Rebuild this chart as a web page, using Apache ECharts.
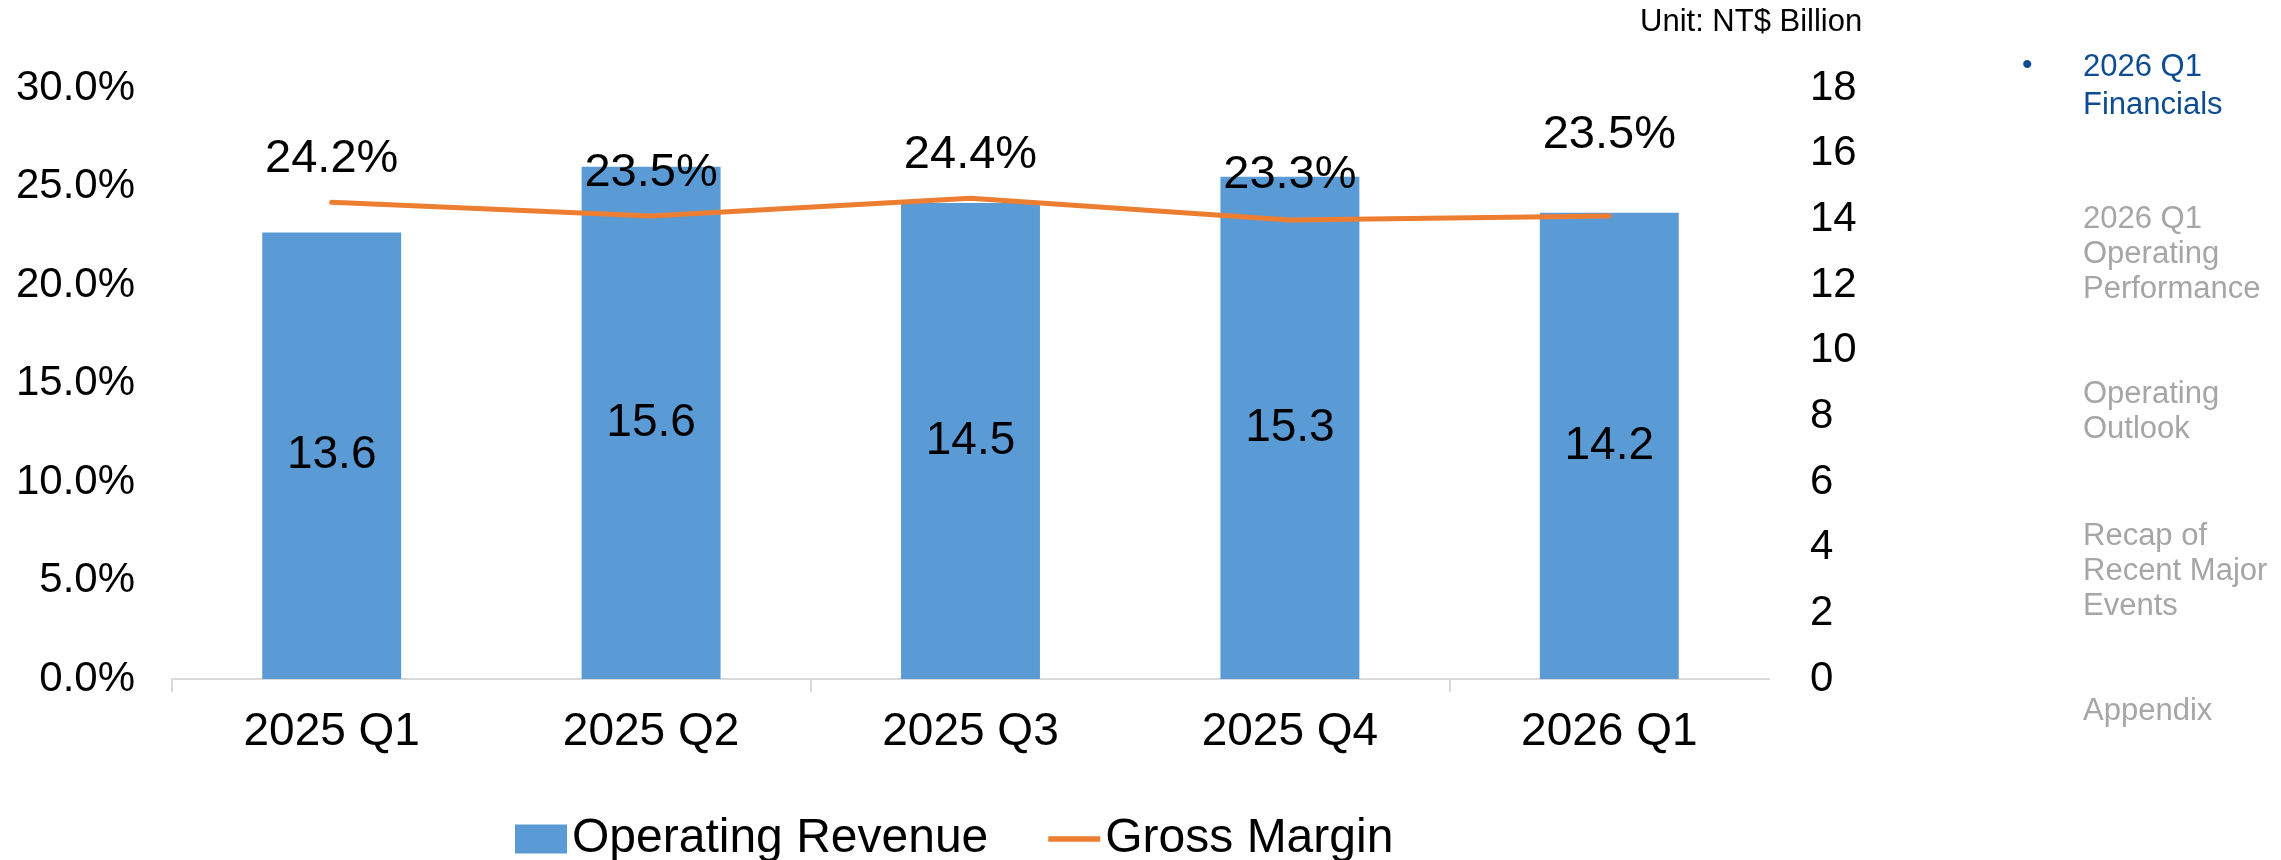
<!DOCTYPE html>
<html>
<head>
<meta charset="utf-8">
<script src="https://cdn.jsdelivr.net/npm/echarts@6/dist/echarts.min.js"></script>
<style>
  html, body { margin: 0; padding: 0; background: #fff; }
  #chart { width: 2281px; height: 860px; }
</style>
</head>
<body>
<div id="chart"></div>
<script>
var quarters = ['2025 Q1', '2025 Q2', '2025 Q3', '2025 Q4', '2026 Q1'];
var revenue = [13.6, 15.6, 14.5, 15.3, 14.2];       // NT$ Billion
var grossMargin = [24.2, 23.5, 24.4, 23.3, 23.5];   // %
var marginLabelLift = [19, 19, 19, 21, 57];          // label distance above the line point
var tickBoundaries = [0, 2, 4];                      // category boundaries that carry a tick

var font = 'Liberation Sans, Arial, sans-serif';
var blue = '#5B9BD5';
var orange = '#ED7D31';
var axisGrey = '#D9D9D9';

var navItems = [
    { text: '2026 Q1\nFinancials', top: 48, color: '#0E4C92', lh: 38 },
    { text: '2026 Q1\nOperating\nPerformance', top: 202, color: '#A6A6A6', lh: 35 },
    { text: 'Operating\nOutlook', top: 377, color: '#A6A6A6', lh: 35 },
    { text: 'Recap of\nRecent Major\nEvents', top: 519, color: '#A6A6A6', lh: 35 },
    { text: 'Appendix', top: 694, color: '#A6A6A6', lh: 35 }
];

var graphics = [
    {
        type: 'text', left: 1640, top: 7,
        style: { text: 'Unit: NT$ Billion', font: '31px ' + font, fill: '#000' }
    },
    {
        type: 'text', left: 2022, top: 51,
        style: { text: '•', font: '30px ' + font, fill: '#0E4C92' }
    }
];
navItems.forEach(function (it) {
    graphics.push({
        type: 'text', left: 2083, top: it.top,
        style: { text: it.text, font: '31px ' + font, fill: it.color, lineHeight: it.lh }
    });
});

var option = {
    textStyle: { fontFamily: font },
    legend: {
        left: 510,
        top: 810,
        itemWidth: 52,
        itemHeight: 29,
        itemGap: 60,
        symbolKeepAspect: true,
        textStyle: { fontSize: 48, color: '#000', fontFamily: font },
        data: [
            { name: 'Operating Revenue', icon: 'rect' },
            { name: 'Gross Margin', icon: 'path://M0,0 L56,0 L56,6 L0,6 Z' }
        ]
    },
    grid: {
        left: 172,
        right: 512,
        top: 88,
        bottom: 181
    },
    xAxis: [
        {
            type: 'category',
            data: quarters,
            axisLine: { show: true, lineStyle: { color: axisGrey, width: 2 } },
            axisTick: { show: false },
            axisLabel: { fontSize: 46, color: '#000', margin: 30, fontFamily: font }
        },
        {
            // tick marks only, on every other category boundary
            type: 'value',
            position: 'bottom',
            min: 0,
            max: quarters.length,
            axisLine: { show: false },
            splitLine: { show: false },
            axisLabel: { show: false },
            axisTick: {
                show: true,
                length: 13,
                customValues: tickBoundaries,
                lineStyle: { color: axisGrey, width: 2 }
            }
        }
    ],
    yAxis: [
        {
            type: 'value',
            min: 0,
            max: 30,
            interval: 5,
            splitLine: { show: false },
            axisLine: { show: false },
            axisTick: { show: false },
            axisLabel: {
                fontSize: 42, color: '#000', margin: 37, fontFamily: font,
                formatter: function (v) { return v.toFixed(1) + '%'; }
            }
        },
        {
            type: 'value',
            min: 0,
            max: 18,
            interval: 2,
            splitLine: { show: false },
            axisLine: { show: false },
            axisTick: { show: false },
            axisLabel: { fontSize: 42, color: '#000', margin: 41, fontFamily: font }
        }
    ],
    series: [
        {
            name: 'Operating Revenue',
            type: 'bar',
            yAxisIndex: 1,
            data: revenue,
            barWidth: '43.5%',
            itemStyle: { color: blue },
            label: {
                show: true,
                position: 'inside',
                color: '#000',
                fontSize: 46,
                fontFamily: font,
                formatter: function (p) { return p.value.toFixed(1); }
            },
            z: 2
        },
        {
            name: 'Gross Margin',
            type: 'line',
            yAxisIndex: 0,
            symbol: 'circle',
            symbolSize: 1,
            showSymbol: true,
            data: grossMargin.map(function (v, i) {
                return { value: v, label: { distance: marginLabelLift[i] } };
            }),
            lineStyle: { color: orange, width: 5, cap: 'round' },
            itemStyle: { color: orange },
            label: {
                show: true,
                position: 'top',
                color: '#000',
                fontSize: 47,
                fontFamily: font,
                formatter: function (p) { return p.value.toFixed(1) + '%'; }
            },
            z: 3
        }
    ],
    graphic: graphics
};

var chart = echarts.init(document.getElementById('chart'));
chart.setOption(option);
</script>
</body>
</html>
